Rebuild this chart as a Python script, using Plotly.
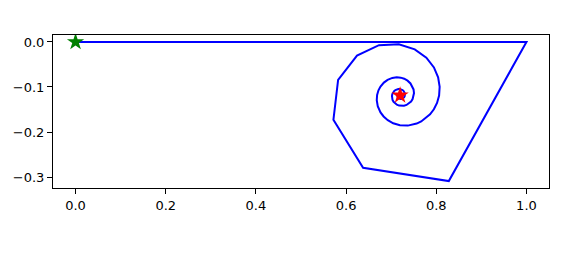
import plotly.graph_objects as go

# Partial sums of the series (path of the spiral)
path_x = [0.0000,1.0000,0.8278,0.6377,0.5719,0.5823,0.6242,0.6729,0.7170,0.7523,
          0.7780,0.7948,0.8041,0.8075,0.8063,0.8017,0.7947,0.7862,0.7666,0.7565,
          0.7369,0.7194,0.7045,0.6925,0.6832,0.6763,0.6702,0.6680,0.6688,0.6718,
          0.6763,0.6838,0.6920,0.7025,0.7123,0.7212,0.7289,0.7363,0.7428,0.7471,
          0.7496,0.7506,0.7497,0.7475,0.7441,0.7392,0.7340,0.7284,0.7228,0.7175,
          0.7127,0.7085,0.7053,0.7030,0.7018,0.7017,0.7025,0.7041,0.7065,0.7093,
          0.7126,0.7159,0.7192,0.7223,0.7251,0.7273,0.7290,0.7301,0.7306,0.7305,
          0.7298,0.7286,0.7271,0.7253,0.7234,0.7214,0.7195,0.7177,0.7162,0.7150,
          0.7141,0.7136,0.7134,0.7137,0.7142]
path_y = [0.0000,-0.0000,-0.3088,-0.2792,-0.1729,-0.0841,-0.0304,-0.0072,-0.0052,-0.0164,
          -0.0349,-0.0566,-0.0787,-0.0998,-0.1188,-0.1354,-0.1494,-0.1608,-0.1765,-0.1812,
          -0.1857,-0.1849,-0.1805,-0.1737,-0.1654,-0.1564,-0.1426,-0.1294,-0.1176,-0.1074,
          -0.0989,-0.0902,-0.0842,-0.0799,-0.0785,-0.0793,-0.0817,-0.0860,-0.0921,-0.0988,
          -0.1054,-0.1135,-0.1206,-0.1267,-0.1321,-0.1368,-0.1399,-0.1417,-0.1421,-0.1413,
          -0.1394,-0.1364,-0.1328,-0.1286,-0.1244,-0.1200,-0.1160,-0.1123,-0.1092,-0.1069,
          -0.1053,-0.1045,-0.1045,-0.1053,-0.1067,-0.1086,-0.1108,-0.1134,-0.1159,-0.1185,
          -0.1208,-0.1228,-0.1245,-0.1257,-0.1265,-0.1267,-0.1266,-0.1260,-0.1250,-0.1238,
          -0.1224,-0.1209,-0.1194,-0.1179,-0.1166]

start_x = [0.0]
start_y = [0.0]
limit_x = [0.7198]
limit_y = [-0.1185]

x_ticks = [0.0, 0.2, 0.4, 0.6, 0.8, 1.0]
y_ticks = [0.0, -0.1, -0.2, -0.3]

fig = go.Figure()
fig.add_trace(go.Scatter(x=path_x, y=path_y, mode="lines",
                         line=dict(color="#0000ff", width=2), showlegend=False))
fig.add_trace(go.Scatter(x=start_x, y=start_y, mode="markers",
                         marker=dict(symbol="star", size=13, color="#008000",
                                     line=dict(width=0)), showlegend=False))
fig.add_trace(go.Scatter(x=limit_x, y=limit_y, mode="markers",
                         marker=dict(symbol="star", size=13, color="#ff0000",
                                     line=dict(width=0)), showlegend=False))

axis_common = dict(showgrid=False, zeroline=False, showline=True, mirror=True,
                   linecolor="black", linewidth=1, ticks="outside", ticklen=5,
                   tickwidth=1, tickcolor="black",
                   tickfont=dict(family="DejaVu Sans", size=13, color="black"))

fig.update_xaxes(range=[-0.05, 1.05], tickvals=x_ticks,
                 ticktext=[f"{v:.1f}" for v in x_ticks], **axis_common)
fig.update_yaxes(range=[-0.3242, 0.0154], tickvals=y_ticks,
                 ticktext=[f"{v:.1f}".replace("-", "\u2212") for v in y_ticks],
                 **axis_common)

fig.update_layout(width=579, height=253,
                  margin=dict(l=53, r=30, t=35, b=65),
                  paper_bgcolor="white", plot_bgcolor="white")

fig.write_html("out.html")
